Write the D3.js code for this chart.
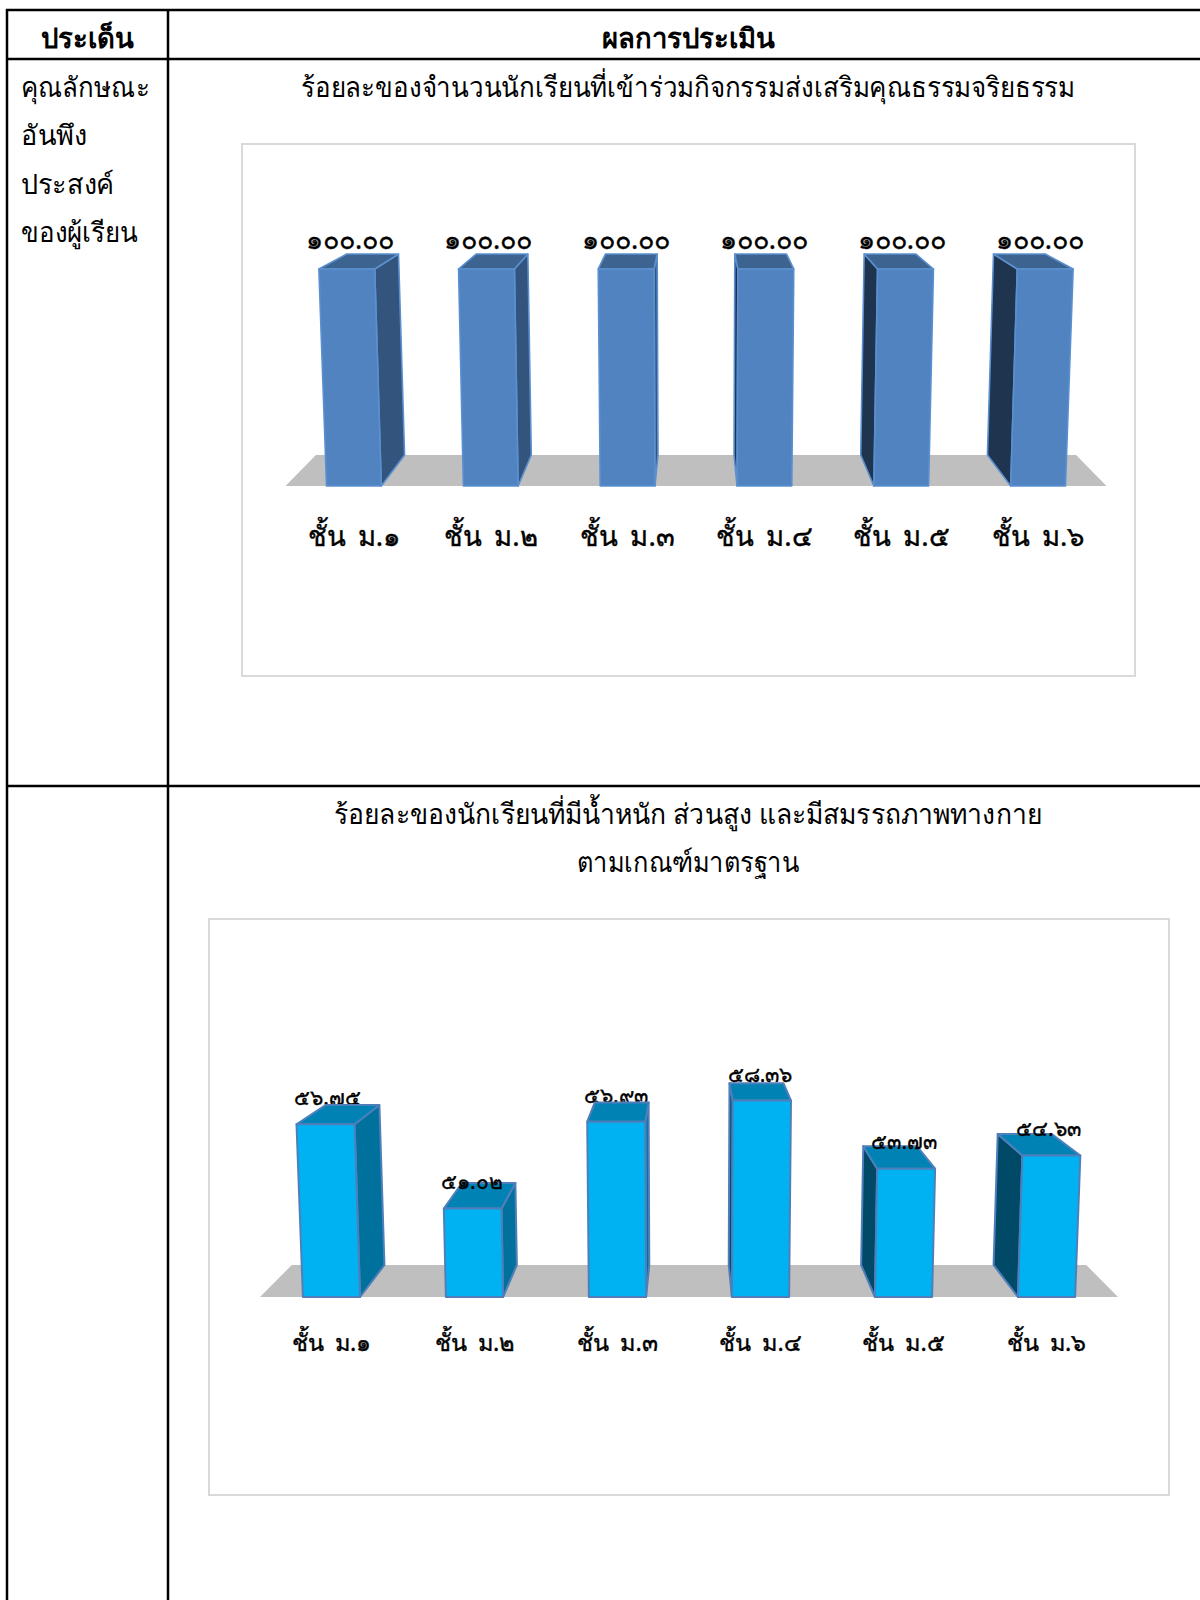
<!DOCTYPE html>
<html><head><meta charset="utf-8">
<script src="https://cdnjs.cloudflare.com/ajax/libs/d3/7.8.5/d3.min.js"></script>
<style>html,body{margin:0;padding:0;background:#fff}svg{display:block}
text{font-family:"Noto Sans","Open Sans","DejaVu Sans",sans-serif;fill:#000}</style>
</head><body><div id="c"></div>
<script>
const categories = ["ชั้น ม.๑","ชั้น ม.๒","ชั้น ม.๓","ชั้น ม.๔","ชั้น ม.๕","ชั้น ม.๖"];
const moralValues = [100.00,100.00,100.00,100.00,100.00,100.00];
const healthValues = [56.75,51.02,56.93,58.36,53.73,54.63];
const moralTitle = ["ร้อยละของจำนวนนักเรียนที่เข้าร่วมกิจกรรมส่งเสริมคุณธรรมจริยธรรม"];
const healthTitle = ["ร้อยละของนักเรียนที่มีน้ำหนัก ส่วนสูง และมีสมรรถภาพทางกาย","ตามเกณฑ์มาตรฐาน"];
const headerCells = ["ประเด็น","ผลการประเมิน"];
const issueLines = ["คุณลักษณะ","อันพึง","ประสงค์","ของผู้เรียน"];

const thai = s => s.replace(/\d/g, d => "๐๑๒๓๔๕๖๗๘๙"[+d]);
const svg = d3.select("#c").append("svg").attr("width",1200).attr("height",1600);

// table rules
const rule=(x1,y1,x2,y2)=>svg.append("line").attr("x1",x1).attr("y1",y1).attr("x2",x2).attr("y2",y2).attr("stroke","#000").attr("stroke-width",2.5);
rule(6,10,1200,10);rule(6,59,1200,59);rule(6,786,1200,786);rule(7,9,7,1600);rule(168,9,168,1600);

const body=(sel,size)=>sel.attr("font-size",size).attr("font-weight",300).attr("lengthAdjust","spacingAndGlyphs");
svg.append("text").attr("x",87).attr("y",48).attr("text-anchor","middle").attr("font-size",27.5).attr("font-weight",700).text(headerCells[0]);
svg.append("text").attr("x",688).attr("y",48).attr("text-anchor","middle").attr("font-size",27.5).attr("font-weight",700).text(headerCells[1]);
issueLines.forEach((t,i)=>body(svg.append("text").attr("x",21).attr("y",97+i*48.4),27.5).attr("textLength",[129,66,93,117][i]).text(t));
moralTitle.forEach(t=>body(svg.append("text").attr("x",301).attr("y",97),28).attr("textLength",774).text(t));
healthTitle.forEach((t,i)=>body(svg.append("text").attr("x",[334,577][i]).attr("y",824+i*48),28).attr("textLength",[708,222][i]).text(t));

function chart(o){
  const {values,frame,cx,baseY,floorHalf,depthPx,depthScale,domain,range,colors,catSize,valSize,labelLift,catDrop,labelsOnTop,edgeWidth}=o;
  svg.append("rect").attr("x",frame[0]).attr("y",frame[1]).attr("width",frame[2]-frame[0]).attr("height",frame[3]-frame[1])
    .attr("fill","#fff").attr("stroke","#d9d9d9").attr("stroke-width",2);
  const x=d3.scaleBand().domain(categories).range([-floorHalf,floorHalf]).paddingInner(.6).paddingOuter(.3);
  const y=d3.scaleLinear().domain(domain).range(range);
  // simple perspective: d=0 front plane, d=1 back plane, h=height above the floor
  const proj=(wx,h,d)=>{
    const s=1+(depthScale-1)*d, w=1+.000096*h;
    return [cx+wx*s*w, baseY-d*depthPx-h*s];
  };
  const g=svg.append("g");
  const poly=(pts,fill,stroke)=>g.append("polygon").attr("points",pts.map(p=>p.join(",")).join(" ")).attr("fill",fill)
    .attr("stroke",stroke).attr("stroke-width",edgeWidth).attr("stroke-linejoin","round");
  poly([proj(-floorHalf,0,0),proj(floorHalf,0,0),proj(floorHalf,0,1),proj(-floorHalf,0,1)],"#bfbfbf","none");
  const labels=values.map((v,i)=>({v,c:x(categories[i])+x.bandwidth()/2,h:y(v)}));
  const drawLabels=(list)=>list.forEach(l=>g.append("text").attr("x",cx+l.c*1.008-1).attr("y",baseY-labelLift-.988*l.h)
     .attr("text-anchor","middle").attr("font-size",valSize).attr("font-weight",400).attr("stroke","#000").attr("stroke-width",.35).text(thai(l.v.toFixed(2))));
  drawLabels(labels.filter((l,i)=>!labelsOnTop(i)));
  values.forEach((v,i)=>{
    const l=x(categories[i]), r=l+x.bandwidth(), h=y(v);
    if(l+x.bandwidth()/2<0) poly([proj(r,0,0),proj(r,h,0),proj(r,h,1),proj(r,0,1)],colors.right,colors.edge);
    else poly([proj(l,0,0),proj(l,h,0),proj(l,h,1),proj(l,0,1)],colors.left,colors.edge);
    poly([proj(l,h,0),proj(r,h,0),proj(r,h,1),proj(l,h,1)],colors.top,colors.edge);
    poly([proj(l,0,0),proj(r,0,0),proj(r,h,0),proj(l,h,0)],colors.front,colors.edge);
  });
  drawLabels(labels.filter((l,i)=>labelsOnTop(i)));
  const ax=svg.append("g").attr("transform",`translate(${cx},${baseY})`)
    .call(d3.axisBottom(x).tickSize(0));
  ax.select(".domain").remove();
  ax.selectAll("text").attr("y",catDrop).attr("dy",0).attr("font-size",catSize).attr("font-weight",400)
    .attr("stroke","#000").attr("stroke-width",.4).attr("word-spacing",5).attr("font-family",null);
}
chart({values:moralValues,frame:[242,144,1135,676],cx:696,baseY:486,floorHalf:410.5,depthPx:31,depthScale:.926,domain:[0,100],range:[0,217],edgeWidth:1.6,
  colors:{front:"#5083c0",top:"#3d6390",right:"#33547d",left:"#1f344f",edge:"#5b90d0"},catSize:27.5,valSize:27,labelLift:22.5,catDrop:60,labelsOnTop:()=>true});
chart({values:healthValues,frame:[209,919,1169,1495],cx:689,baseY:1297,floorHalf:429,depthPx:32,depthScale:.926,domain:[45,60],range:[0,220.5],edgeWidth:2,
  colors:{front:"#00b2f2",top:"#0083b4",right:"#00709c",left:"#004a68",edge:"#4f7fbb"},catSize:23.5,valSize:21,labelLift:21,catDrop:54,labelsOnTop:i=>i!==0&&i!==2});
</script></body></html>
